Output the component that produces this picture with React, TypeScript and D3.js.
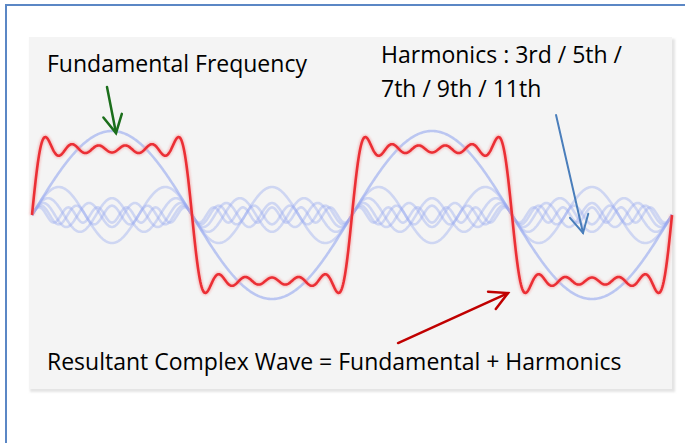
import * as d3 from "d3";
import { useEffect, useRef } from "react";

// harmonic series that make up the square wave
const harmonicOrders = [1, 3, 5, 7, 9, 11];
const harmonicAmplitudes = [1, 1 / 3, 1 / 5, 1 / 7, 1 / 9, 1 / 11];
const cycles = 2;

const titleFundamental = "Fundamental Frequency";
const titleHarmonics = ["Harmonics : 3rd / 5th /", "7th / 9th / 11th"];
const titleResultant = "Resultant Complex Wave = Fundamental + Harmonics";

type Arrow = {
  phase: number;
  value: number;
  dx: number;
  dy: number;
  color: string;
  width: number;
};

// arrow tips in data units (phase in cycles, value in fundamental amplitudes)
const arrows: Arrow[] = [
  { phase: 0.2625, value: 0.976, dx: -9, dy: -46, color: "#1b6e1b", width: 2.5 },
  { phase: 1.722, value: -0.214, dx: -27, dy: -118, color: "#4a7ebb", width: 2 },
  { phase: 1.4875, value: -0.929, dx: -110, dy: 50, color: "#c00000", width: 2.5 },
];

const App = () => {
  const ref = useRef<SVGSVGElement>(null);

  useEffect(() => {
    const width = 685;
    const height = 443;
    const font = "'Open Sans', sans-serif";

    const svg = d3.select(ref.current);
    svg.selectAll("*").remove();
    svg.attr("width", width).attr("height", height);

    const defs = svg.append("defs");
    defs
      .append("filter")
      .attr("id", "soft")
      .append("feGaussianBlur")
      .attr("stdDeviation", 0.6);
    defs
      .append("filter")
      .attr("id", "glow")
      .append("feGaussianBlur")
      .attr("stdDeviation", 1.2);

    svg.append("rect").attr("width", width).attr("height", height).attr("fill", "#fff");

    // outer border
    svg
      .append("rect")
      .attr("x", 6)
      .attr("y", 5)
      .attr("width", 720)
      .attr("height", 500)
      .attr("fill", "none")
      .attr("stroke", "#5b87c5")
      .attr("stroke-width", 2);

    // panel with shadow
    svg
      .append("rect")
      .attr("x", 30)
      .attr("y", 39)
      .attr("width", 645)
      .attr("height", 353)
      .attr("fill", "#e4e4e4")
      .attr("filter", "url(#glow)");
    svg
      .append("rect")
      .attr("x", 29)
      .attr("y", 37)
      .attr("width", 643)
      .attr("height", 352)
      .attr("fill", "#f4f4f4");

    const x = d3.scaleLinear().domain([0, cycles]).range([32, 672]);
    const y = d3.scaleLinear().domain([-1, 1]).range([299, 131]);

    const samples = d3.range(0, cycles * 500 + 1).map((i) => i / 500);

    const harmonicLine = (n: number, a: number) =>
      d3
        .line<number>()
        .x((t) => x(t))
        .y((t) => y(a * Math.sin(2 * Math.PI * n * t)))(samples);

    const resultantLine = d3
      .line<number>()
      .x((t) => x(t))
      .y((t) =>
        y(
          d3.sum(harmonicOrders, (n, i) => harmonicAmplitudes[i] * Math.sin(2 * Math.PI * n * t))
        )
      );

    const waves = svg.append("g");
    waves
      .selectAll("path.harmonic")
      .data(harmonicOrders)
      .join("path")
      .attr("class", "harmonic")
      .attr("d", (n, i) => harmonicLine(n, harmonicAmplitudes[i]))
      .attr("fill", "none")
      .attr("stroke", "#95a8f0")
      .attr("stroke-opacity", (n, i) => (i === 0 ? 0.6 : 0.4))
      .attr("stroke-width", 2.6)
      .attr("filter", "url(#soft)");

    waves
      .append("path")
      .attr("d", resultantLine(samples))
      .attr("fill", "none")
      .attr("stroke", "#f5a0a0")
      .attr("stroke-opacity", 0.6)
      .attr("stroke-width", 5)
      .attr("filter", "url(#glow)");
    waves
      .append("path")
      .attr("d", resultantLine(samples))
      .attr("fill", "none")
      .attr("stroke", "#eb2f35")
      .attr("stroke-width", 2.6)
      .attr("stroke-linejoin", "round");

    // arrows
    const headLen = 20;
    const headAngle = (28 * Math.PI) / 180;
    arrows.forEach((a) => {
      const tx = x(a.phase);
      const ty = y(a.value);
      const sx = tx + a.dx;
      const sy = ty + a.dy;
      const back = Math.atan2(sy - ty, sx - tx);
      const w1 = [tx + headLen * Math.cos(back - headAngle), ty + headLen * Math.sin(back - headAngle)];
      const w2 = [tx + headLen * Math.cos(back + headAngle), ty + headLen * Math.sin(back + headAngle)];
      const g = svg
        .append("g")
        .attr("stroke", a.color)
        .attr("stroke-width", a.width)
        .attr("fill", "none")
        .attr("stroke-linecap", "round");
      g.append("line").attr("x1", sx).attr("y1", sy).attr("x2", tx).attr("y2", ty);
      g.append("path").attr("d", `M${w1[0]},${w1[1]}L${tx},${ty}L${w2[0]},${w2[1]}`);
    });

    // labels
    const text = (s: string, tx: number, ty: number) =>
      svg
        .append("text")
        .attr("x", tx)
        .attr("y", ty)
        .attr("font-family", font)
        .attr("font-size", 23)
        .attr("fill", "#000")
        .text(s);

    text(titleFundamental, 47, 72);
    titleHarmonics.forEach((s, i) => text(s, 381, 63 + i * 34));
    text(titleResultant, 47, 370);
  }, []);

  return <svg ref={ref} style={{ position: "absolute", left: 0, top: 0 }} />;
};

export default App;
